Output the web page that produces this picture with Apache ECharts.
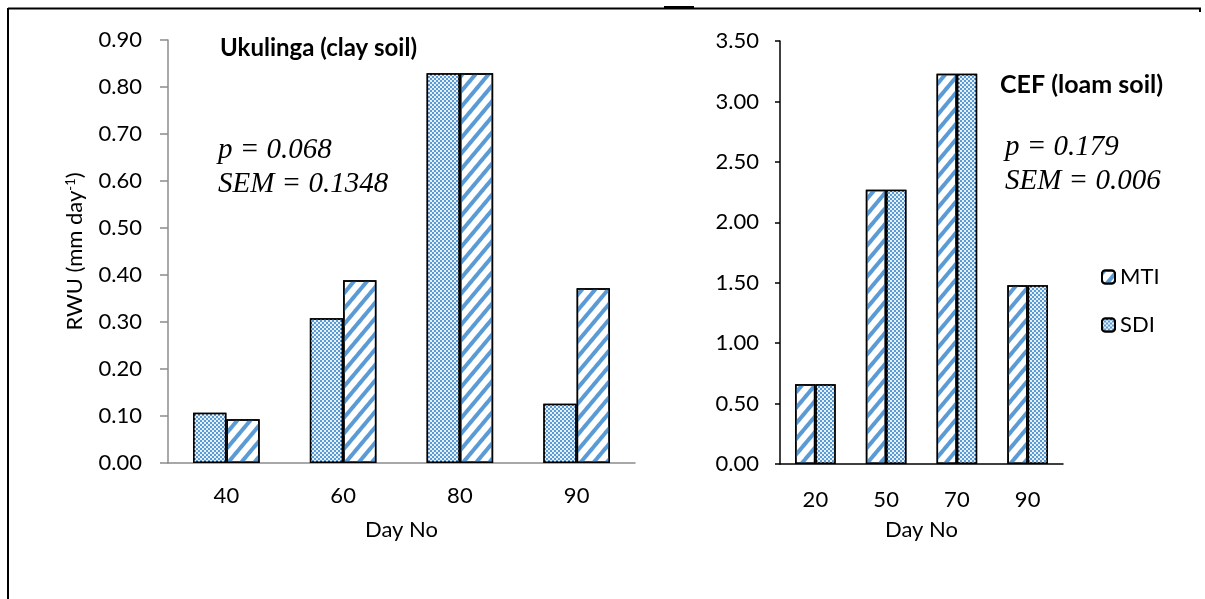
<!DOCTYPE html>
<html><head><meta charset="utf-8">
<script src="https://cdn.jsdelivr.net/npm/echarts@6/dist/echarts.min.js"></script>
<style>html,body{margin:0;padding:0;background:#fff}#c{width:1205px;height:599px}</style>
</head><body><div id="c"></div>
<script>
// Left panel: Ukulinga (clay soil)
const leftCategories = ['40', '60', '80', '90'];
const leftSDI = [0.107, 0.308, 0.829, 0.126];
const leftMTI = [0.093, 0.389, 0.829, 0.372];
const leftTicks = { min: 0, max: 0.9, interval: 0.1 };
// Right panel: CEF (loam soil)
const rightCategories = ['20', '50', '70', '90'];
const rightMTI = [0.66, 2.27, 3.23, 1.48];
const rightSDI = [0.66, 2.27, 3.23, 1.48];
const rightTicks = { min: 0, max: 3.5, interval: 0.5 };

const FONT = 'Lato';
const BLUE = '#5B9BD5';
const stripeStyle = {
  color: '#ffffff', borderColor: '#000', borderWidth: 1.5,
  decal: { symbol: 'rect', symbolSize: 1, color: BLUE, dashArrayX: [[1, 0]], dashArrayY: [4, 6], rotation: -Math.PI / 3.6 }
};
const dotStyle = {
  color: BLUE, borderColor: '#000', borderWidth: 1.5,
  decal: { symbol: 'rect', symbolSize: 0.9, color: 'rgba(255,255,255,0.95)', dashArrayX: [[2, 2], [0, 2, 2, 0]], dashArrayY: [2, 0], rotation: 0 }
};

const chart = echarts.init(document.getElementById('c'), null, { renderer: 'canvas' });
const gray = '#8c8c8c';
const tickFmt = v => v.toFixed(2);
const FS = 22;
chart.setOption({
  animation: false,
  textStyle: { fontFamily: FONT },
  grid: [
    { left: 168, top: 40, width: 467, height: 423 },
    { left: 780, top: 41, width: 283, height: 423 }
  ],
  legend: {
    data: ['MTI', 'SDI'], orient: 'vertical', left: 1096, top: 261, itemGap: 26,
    itemWidth: 13, itemHeight: 13, textStyle: { fontSize: FS, color: '#000', fontFamily: FONT }
  },
  xAxis: [
    { type: 'category', gridIndex: 0, data: leftCategories, name: 'Day No', nameLocation: 'middle', nameGap: 56,
      nameTextStyle: { fontSize: FS, color: '#000' },
      axisLine: { lineStyle: { color: gray, width: 1.5 } }, axisTick: { length: 8, lineStyle: { color: gray, width: 1.5 } },
      axisLabel: { fontSize: FS, color: '#000', margin: 22 } },
    { type: 'category', gridIndex: 1, data: rightCategories, name: 'Day No', nameLocation: 'middle', nameGap: 55,
      nameTextStyle: { fontSize: FS, color: '#000' },
      axisLine: { lineStyle: { color: '#000', width: 1.5 } }, axisTick: { length: 8, lineStyle: { color: '#000', width: 1.5 } },
      axisLabel: { fontSize: FS, color: '#000', margin: 25 } }
  ],
  yAxis: [
    { type: 'value', gridIndex: 0, min: leftTicks.min, max: leftTicks.max, interval: leftTicks.interval,
      name: '{n|RWU (mm day}{s|-1}{n|)}', nameLocation: 'middle', nameGap: 82, nameRotate: 90,
      nameTextStyle: { color: '#000', rich: { n: { fontSize: FS, color: '#000', fontFamily: FONT }, s: { fontSize: 13, color: '#000', fontFamily: FONT, verticalAlign: 'top', lineHeight: 14 } } },
      splitLine: { show: false },
      axisLine: { show: true, lineStyle: { color: gray, width: 1.5 } }, axisTick: { show: true, length: 8, lineStyle: { color: gray, width: 1.5 } },
      axisLabel: { fontSize: FS, color: '#000', margin: 26, formatter: tickFmt } },
    { type: 'value', gridIndex: 1, min: rightTicks.min, max: rightTicks.max, interval: rightTicks.interval,
      splitLine: { show: false },
      axisLine: { show: true, lineStyle: { color: '#000', width: 1.5 } }, axisTick: { show: true, length: 5, lineStyle: { color: '#000', width: 1.5 } },
      axisLabel: { fontSize: FS, color: '#000', margin: 21, formatter: tickFmt } }
  ],
  series: [
    { name: 'SDI', type: 'bar', xAxisIndex: 0, yAxisIndex: 0, data: leftSDI, barGap: '0%', barCategoryGap: '43%', itemStyle: dotStyle },
    { name: 'MTI', type: 'bar', xAxisIndex: 0, yAxisIndex: 0, data: leftMTI, barGap: '0%', barCategoryGap: '43%', itemStyle: stripeStyle },
    { name: 'MTI', type: 'bar', xAxisIndex: 1, yAxisIndex: 1, data: rightMTI, barGap: '0%', barCategoryGap: '42.6%', itemStyle: stripeStyle },
    { name: 'SDI', type: 'bar', xAxisIndex: 1, yAxisIndex: 1, data: rightSDI, barGap: '0%', barCategoryGap: '42.6%', itemStyle: dotStyle }
  ],
  graphic: [
    { type: 'line', shape: { x1: 8, y1: 8.5, x2: 1201, y2: 8.5 }, style: { stroke: '#000', lineWidth: 2 } },
    { type: 'line', shape: { x1: 8, y1: 8, x2: 8, y2: 599 }, style: { stroke: '#000', lineWidth: 2 } },
    { type: 'rect', shape: { x: 664, y: 6, width: 30, height: 3 }, style: { fill: '#000' } },
    { type: 'rect', shape: { x: 1199, y: 8, width: 2, height: 4 }, style: { fill: '#000' } },
    { type: 'text', left: 220, top: 36, style: { text: 'Ukulinga (clay soil)', font: 'bold 24px "Lato"', fill: '#000' } },
    { type: 'text', left: 218, top: 136, style: { text: 'p = 0.068', font: 'italic 29px "Liberation Serif"', fill: '#000' } },
    { type: 'text', left: 218, top: 170, style: { text: 'SEM = 0.1348', font: 'italic 29px "Liberation Serif"', fill: '#000' } },
    { type: 'text', left: 1000, top: 72, style: { text: 'CEF (loam soil)', font: 'bold 25px "Lato"', fill: '#000' } },
    { type: 'text', left: 1005, top: 133, style: { text: 'p = 0.179', font: 'italic 29px "Liberation Serif"', fill: '#000' } },
    { type: 'text', left: 1005, top: 167, style: { text: 'SEM = 0.006', font: 'italic 29px "Liberation Serif"', fill: '#000' } }
  ]
});
</script></body></html>
